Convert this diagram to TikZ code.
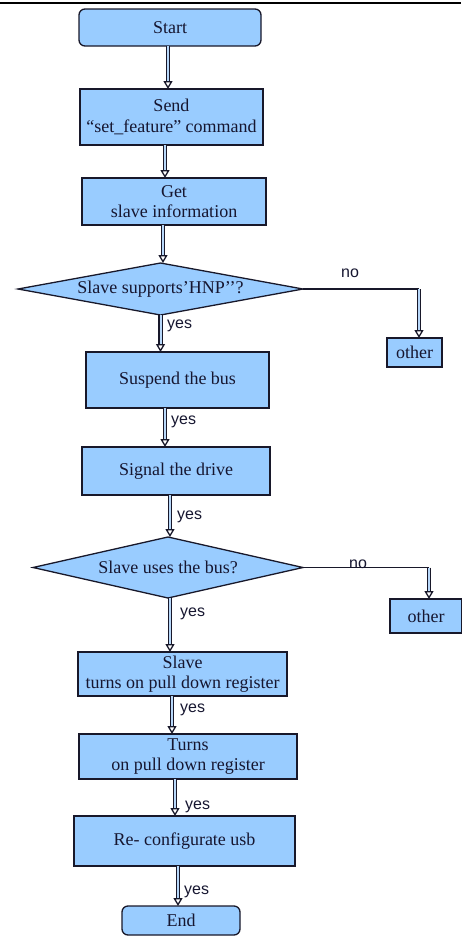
\documentclass[tikz,border=0pt]{standalone}
\usepackage{fontspec}
\setmainfont{Liberation Serif}
\newfontfamily\lblfont{Liberation Sans}
\usetikzlibrary{shapes.geometric,arrows.meta,calc}
\definecolor{boxfill}{HTML}{99CCFF}
\definecolor{boxline}{HTML}{18182A}
\definecolor{boxtext}{HTML}{161630}
\definecolor{shaft}{HTML}{B8D8FA}

\begin{document}
\begin{tikzpicture}[x=1pt,y=-1pt,
  base/.style={draw=boxline, line width=1.3pt, fill=boxfill, text=boxtext,
    font=\fontsize{18}{20.5}\selectfont, align=center, inner sep=0pt, outer sep=0pt},
  sz/.style 2 args={minimum width=#1, minimum height=#2},
  procbox/.style={base, rectangle},
  termbox/.style={base, rectangle, rounded corners=6pt},
  decision/.style={base, diamond},
  flow/.style={draw=boxline, line width=1.3pt, double=shaft, double distance=2pt,
    -{Triangle[open, length=8pt, width=9pt]}},
  link/.style={draw=boxline, line width=1.3pt},
  lbl/.style={font=\lblfont\fontsize{16}{18}\selectfont, text=boxtext, inner sep=0pt, anchor=base west}
]
\useasboundingbox (0,0) rectangle (461,938);
\draw[line width=1.2pt] (0,3) -- (461,3);

% main column
\node[termbox, sz={182pt}{37pt}] (start)   at (170,27.5)  {Start};
\node[procbox, sz={183pt}{56pt}] (send)    at (171.5,117) {Send\\“set\_feature” command};
\node[procbox, sz={184pt}{47pt}] (get)     at (174,201.5) {Get\\slave information};
\node[decision, shape aspect=5.48, sz={285pt}{52pt}] (d1) at (160.5,289) {Slave supports’HNP’’?};
\node[procbox, sz={55pt}{29pt}]  (other1)  at (414.5,352.5) {other};
\node[procbox, sz={183pt}{56pt}] (suspend) at (177.5,380) {Suspend the bus};
\node[procbox, sz={188pt}{48pt}] (signal)  at (176,471)   {Signal the drive};
\node[decision, shape aspect=4.43, sz={270pt}{61pt}] (d2) at (168,567.5) {Slave uses the bus?};
\node[procbox, sz={72pt}{34pt}]  (other2)  at (426,616)   {other};
\node[procbox, sz={209pt}{44pt}] (slave)   at (182.5,674) {Slave\\turns on pull down register};
\node[procbox, sz={218pt}{45pt}] (turns)   at (188,756.5) {Turns\\on pull down register};
\node[procbox, sz={221pt}{50pt}] (reconf)  at (184.5,841) {Re- configurate usb};
\node[termbox, sz={118pt}{29pt}] (end)     at (181,920.5) {End};

% vertical flow arrows
\draw[flow] ([xshift=-2pt]start.south)    -- ([xshift=-2pt]start.south |- send.north);
\draw[flow] ([xshift=-6.5pt]send.south)   -- ([xshift=-6.5pt]send.south |- get.north);
\draw[flow] ([xshift=-11pt]get.south)     -- ([xshift=-11pt]get.south |- d1.north);
\draw[flow] (d1.south)                    -- (d1.south |- suspend.north);
\draw[flow] ([xshift=-12.5pt]suspend.south) -- ([xshift=-12.5pt]suspend.south |- signal.north);
\draw[flow] ([xshift=-6pt]signal.south)   -- ([xshift=-6pt]signal.south |- d2.north);
\draw[flow] ([xshift=2pt]d2.south)        -- ([xshift=2pt]d2.south |- slave.north);
\draw[flow] ([xshift=-10.5pt]slave.south) -- ([xshift=-10.5pt]slave.south |- turns.north);
\draw[flow] ([xshift=-13pt]turns.south)   -- ([xshift=-13pt]turns.south |- reconf.north);
\draw[flow] ([xshift=-6.5pt]reconf.south) -- ([xshift=-6.5pt]reconf.south |- end.north);

% "no" branches
\coordinate (c1) at ([xshift=4.5pt]other1.north |- d1.east);
\coordinate (c2) at ([xshift=3pt]other2.north |- d2.east);
\draw[link] (d1.east) -- (c1);
\draw[flow] (c1) -- (c1 |- other1.north);
\draw[link] (d2.east) -- (c2);
\draw[flow] (c2) -- (c2 |- other2.north);

% branch labels
\node[lbl] (n1) at (341,277) {no};
\node[lbl] (n2) at (349,568) {no};
\node[lbl] (y1) at (167,328) {yes};
\node[lbl] (y2) at (171,424) {yes};
\node[lbl] (y3) at (177,519) {yes};
\node[lbl] (y4) at (180,616) {yes};
\node[lbl] (y5) at (180,712) {yes};
\node[lbl] (y6) at (185,809) {yes};
\node[lbl] (y7) at (184,894) {yes};
\end{tikzpicture}
\end{document}
